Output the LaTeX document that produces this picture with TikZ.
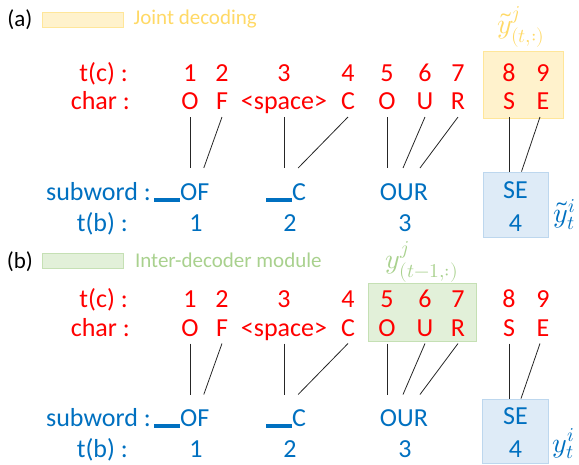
\documentclass[tikz,border=0pt]{standalone}
\usepackage{fontspec}
\usepackage{unicode-math}
\setmainfont{Carlito}
\usetikzlibrary{positioning}

\definecolor{charred}{RGB}{255,0,0}
\definecolor{subblue}{RGB}{0,112,192}
\definecolor{jointfill}{RGB}{255,242,204}
\definecolor{jointline}{RGB}{255,230,153}
\definecolor{jointtext}{RGB}{255,217,102}
\definecolor{interfill}{RGB}{226,240,217}
\definecolor{interline}{RGB}{197,224,180}
\definecolor{intertext}{RGB}{169,209,142}
\definecolor{subfill}{RGB}{222,235,247}
\definecolor{subline}{RGB}{189,215,238}

% word-boundary mark in front of a subword
\newcommand{\sbar}{\rule[-1.7pt]{26pt}{4pt}}
\newcommand{\bigfont}{\fontsize{26}{30}\selectfont}

\tikzset{
  rowlbl/.style={anchor=base east, inner sep=0pt, font=\bigfont},
  charnum/.style={anchor=base, inner sep=0pt, text=charred, font=\bigfont},
  charlbl/.style={anchor=base, inner sep=0pt, text depth=0pt, outer ysep=7.5pt, text=charred, font=\bigfont},
  subword/.style={anchor=base, inner sep=0pt, text height=17pt, text depth=0pt, outer ysep=15pt, text=subblue, font=\bigfont},
  subnum/.style={anchor=base, inner sep=0pt, text=subblue, font=\bigfont},
  legbox/.style={minimum width=81pt, minimum height=15pt, inner sep=0pt, line width=0.8pt},
  legtext/.style={inner sep=0pt, font=\fontsize{21}{25}\selectfont},
  legtag/.style={inner sep=0pt, font=\fontsize{23}{27}\selectfont},
  jointbox/.style={draw=jointline, fill=jointfill, line width=0.8pt, inner sep=0pt},
  interbox/.style={draw=interline, fill=interfill, line width=0.8pt, inner sep=0pt},
  subbox/.style={draw=subline, fill=subfill, line width=0.8pt, inner sep=0pt},
  mathlbl/.style={inner sep=0pt, font=\fontsize{28}{32}\selectfont},
  link/.style={draw=black!85, line width=0.8pt}
}

\begin{document}
\begin{tikzpicture}[x=1pt, y=-1pt]
\useasboundingbox (0,0) rectangle (579,464);

% legends
\node[legbox, fill=jointfill, draw=jointline] (a-leg) at (82.5,19.5) {};
\node[legtag, left=9pt of a-leg] (a-tag) {(a)};
\node[legtext, text=jointtext, right=10pt of a-leg] (a-legtxt) {Joint decoding};
\node[legbox, fill=interfill, draw=interline] (b-leg) at (83,260.5) {};
\node[legtag, left=9pt of b-leg, yshift=-1.5pt] (b-tag) {(b)};
\node[legtext, text=intertext, right=11pt of b-leg] (b-legtxt) {Inter-decoder module};

% highlighted boxes (drawn first, the rows go on top)
\node[jointbox, minimum width=80pt, minimum height=67pt] (a-joint) at (523,84.5) {};
\node[mathlbl, text=jointtext, above=3pt of a-joint, xshift=-2pt] (a-jlbl) {$\tilde{y}^{j}_{(t,:)}$};
\node[subbox, minimum width=65pt, minimum height=65pt] (a-sub) at (515.5,204.5) {};
\node[mathlbl, text=subblue, right=5pt of a-sub, yshift=-10pt] (a-slbl) {$\tilde{y}^{i}_{t}$};

\node[interbox, minimum width=108pt, minimum height=58pt] (b-inter) at (422,312) {};
\node[mathlbl, text=intertext, above=0pt of b-inter] (b-ilbl) {$y^{j}_{(t-1,:)}$};
\node[subbox, minimum width=66pt, minimum height=64pt] (b-sub) at (515,431) {};
\node[mathlbl, text=subblue, right=4pt of b-sub, yshift=-13pt] (b-slbl) {$y^{i}_{t}$};

% both panels share the same rows
\foreach \p/\dy in {a/0, b/226.5} {
  \node[rowlbl, text=charred] (\p-tc) at (128,81+\dy) {t(c) :};
  \node[rowlbl, text=charred] (\p-ch) at (130,109.5+\dy) {char :};
  \node[rowlbl, text=subblue] (\p-sw) at (151,200+\dy) {subword :};
  \node[rowlbl, text=subblue] (\p-tb) at (128,231+\dy) {t(b) :};

  \foreach \i/\x/\ch in {1/190/O, 2/222/F, 3/284/{<space>}, 4/348/C, 5/387/O, 6/425/U, 7/458/R, 8/509/S, 9/543/E} {
    \node[charnum] (\p-n\i) at (\x,81+\dy) {\i};
    \node[charlbl] (\p-c\i) at (\x,109.5+\dy) {\ch};
  }

  \node[subword, anchor=base west] (\p-s1) at (154,200+\dy) {\sbar OF};
  \node[subword, anchor=base west] (\p-s2) at (266,200+\dy) {\sbar C};
  \node[subword] (\p-s3) at (404,200+\dy) {OUR};
  \node[subword] (\p-s4) at (515.5,198+\dy) {SE};
  \foreach \i/\x in {1/196, 2/290, 3/405, 4/515.5}
    \node[subnum] (\p-t\i) at (\x,231+\dy) {\i};

  % characters -> subwords
  \draw[link] (\p-c1.south) -- (\p-c1.south |- \p-s1.north);
  \draw[link] (\p-c2.south) -- ([xshift=22pt]\p-s1.north);
  \draw[link] (\p-c3.south) -- (\p-c3.south |- \p-s2.north);
  \draw[link] (\p-c4.south) -- ([xshift=12pt]\p-s2.north);
  \draw[link] (\p-c5.south) -- (\p-c5.south |- \p-s3.north);
  \draw[link] (\p-c6.south) -- ([xshift=-1pt]\p-s3.north);
  \draw[link] (\p-c7.south) -- ([xshift=16pt]\p-s3.north);
  \draw[link] (\p-c8.south) -- (\p-c8.south |- \p-sub.north);
  \draw[link] ([xshift=-3pt]\p-c9.south) -- ([xshift=6pt]\p-sub.north);
}

\end{tikzpicture}
\end{document}
